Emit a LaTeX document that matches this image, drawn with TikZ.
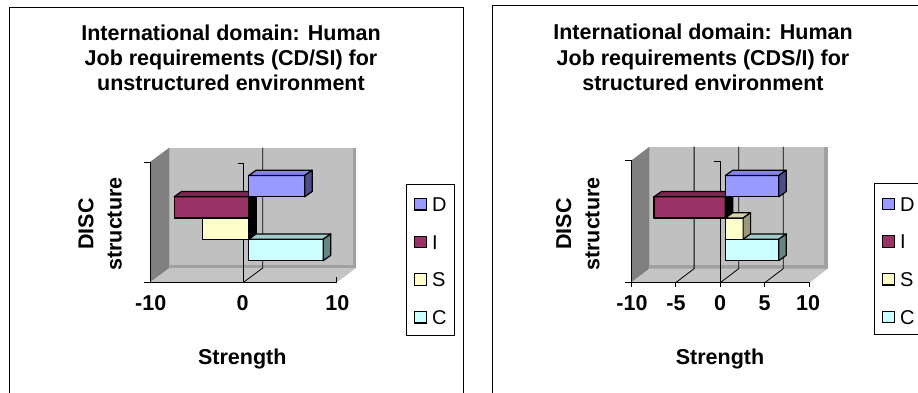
\documentclass[tikz,border=0pt]{standalone}
\usepackage{fontspec}
\setmainfont{Liberation Sans}
\begin{document}
\begin{tikzpicture}[x=1pt,y=-1pt,
  panel/.style={draw=black,line width=1pt},
  titletext/.style={font=\bfseries\fontsize{21.5}{25.7}\selectfont,anchor=base,inner sep=0pt},
  axistext/.style={font=\bfseries\fontsize{21.5}{25.7}\selectfont,anchor=base,inner sep=0pt},
  ylabel/.style={font=\bfseries\fontsize{21.5}{25.7}\selectfont,anchor=base,rotate=90,inner sep=0pt},
  legtext/.style={font=\fontsize{20}{24}\selectfont,anchor=base west,inner sep=0pt},
  legbox/.style={draw=black,line width=0.9pt,fill=white},
  legkey/.style={draw=black,line width=1.1pt,minimum size=11.5pt,inner sep=0pt},
  axisline/.style={draw=black,line width=0.9pt},
  gridline/.style={draw=black,line width=0.8pt},
  barline/.style={draw=black,line width=1.2pt,line join=round},
]
\definecolor{backwall}{HTML}{C0C0C0}
\definecolor{sidewall}{HTML}{808080}
\definecolor{floorcol}{HTML}{C4C4C4}
\definecolor{walledge}{HTML}{A0A0A0}
\definecolor{dfront}{HTML}{9999FF}
\definecolor{dtop}{HTML}{8585E6}
\definecolor{dside}{HTML}{4D4D8C}
\definecolor{ifront}{HTML}{993366}
\definecolor{itop}{HTML}{7A2952}
\definecolor{sfront}{HTML}{FFFFCC}
\definecolor{stop}{HTML}{D6D6A8}
\definecolor{sside}{HTML}{99997A}
\definecolor{cfront}{HTML}{CCFFFF}
\definecolor{ctop}{HTML}{A3CCCC}
\definecolor{cside}{HTML}{668585}

\useasboundingbox (0,0) rectangle (918,392);
\clip (0,0) rectangle (918,392);

% depth offset of the 3-D bars
\def\bdx{7.5}
\def\bdy{-5.3}
% #1 left x, #2 right x, #3 top y, #4 bottom y, #5 front, #6 top, #7 end face
\newcommand{\drawbar}[7]{%
  \filldraw[barline,fill=#5] (#1,#3) rectangle (#2,#4);
  \filldraw[barline,fill=#6] (#1,#3) -- (#1+\bdx,#3+\bdy) -- (#2+\bdx,#3+\bdy) -- (#2,#3) -- cycle;
  \filldraw[barline,fill=#7] (#2,#3) -- (#2+\bdx,#3+\bdy) -- (#2+\bdx,#4+\bdy) -- (#2,#4) -- cycle;
}

% ---------------- panels ----------------
\draw[panel] (9,7.3) rectangle (463,420);
\draw[panel] (492.7,5) rectangle (940,420);

% ================= left chart =================
\node[titletext] (lt1) at (231,40) {International domain: Human};
\node[titletext] (lt2) at (231,65.7) {Job requirements (CD/SI) for};
\node[titletext] (lt3) at (231,90.7) {unstructured environment};

% walls and floor
\fill[backwall] (169.5,147.5) rectangle (356,268);
\fill[walledge] (352.5,147.5) rectangle (356,268);
\fill[walledge] (169.5,264.5) rectangle (356,268);
\fill[sidewall] (150,162) -- (169.5,147.5) -- (169.5,268) -- (150,282.5) -- cycle;
\fill[floorcol] (150,282.5) -- (169.5,268) -- (356,268) -- (336.5,282.5) -- cycle;

% grid and axes
\draw[gridline] (262.75,147.5) -- (262.75,268) -- (243.25,282.5);
\draw[axisline] (144,162) -- (150,162) -- (150,282.5);
\draw[axisline] (144,282.5) -- (336.5,282.5) -- (336.5,277);
\draw[axisline] (237.5,163) -- (243.25,163) -- (243.25,282.5);

% bars: negative values first, then positive ones from bottom to top
\drawbar{202.1}{248.7}{218}{239.2}{sfront}{stop}{black}
\drawbar{174.1}{248.7}{196.8}{218}{ifront}{itop}{black}
\drawbar{248.7}{323.3}{239.2}{260.6}{cfront}{ctop}{cside}
\drawbar{248.7}{304.65}{175.5}{196.8}{dfront}{dtop}{dside}

% axis labels
\node[axistext] (lx1) at (150.7,310) {-10};
\node[axistext] (lx2) at (242.7,310) {0};
\node[axistext] (lx3) at (337.3,310) {10};
\node[axistext] (lxt) at (242.3,364) {Strength};
\node[ylabel] (ly1) at (93.3,224) {DISC};
\node[ylabel] (ly2) at (121.7,224) {structure};

% legend
\draw[legbox] (406.7,184) rectangle (454.3,335);
\node[legkey,fill=dfront] (lkd) at (420.5,204.2) {};
\node[legkey,fill=ifront] (lki) at (420.5,241.8) {};
\node[legkey,fill=sfront] (lks) at (420.5,279.5) {};
\node[legkey,fill=cfront] (lkc) at (420.5,317.2) {};
\node[legtext] (lld) at (432,211.3) {D};
\node[legtext] (lli) at (432,249) {I};
\node[legtext] (lls) at (432,286.6) {S};
\node[legtext] (llc) at (432,324.3) {C};

% ================= right chart =================
\node[titletext] (rt1) at (703,39) {International domain: Human};
\node[titletext] (rt2) at (703,65) {Job requirements (CDS/I) for};
\node[titletext] (rt3) at (703,90) {structured environment};

% walls and floor
\fill[backwall] (649.5,146.7) rectangle (827.8,268.7);
\fill[walledge] (824.3,146.7) rectangle (827.8,268.7);
\fill[walledge] (649.5,265.2) rectangle (827.8,268.7);
\fill[sidewall] (631,160.7) -- (649.5,146.7) -- (649.5,268.7) -- (631,282.7) -- cycle;
\fill[floorcol] (631,282.7) -- (649.5,268.7) -- (827.8,268.7) -- (809.3,282.7) -- cycle;

% grid and axes
\draw[gridline] (694.1,146.7) -- (694.1,268.7) -- (675.6,282.7);
\draw[gridline] (738.65,146.7) -- (738.65,268.7) -- (720.15,282.7);
\draw[gridline] (783.2,146.7) -- (783.2,268.7) -- (764.7,282.7);
\draw[axisline] (625,160.7) -- (631,160.7) -- (631,287);
\draw[axisline] (625,282.7) -- (809.3,282.7) -- (809.3,287);
\draw[axisline] (675.6,282.7) -- (675.6,287);
\draw[axisline] (764.7,282.7) -- (764.7,287);
\draw[axisline] (714,161) -- (720.15,161) -- (720.15,287);

% bars: negative values first, then positive ones from bottom to top
\drawbar{654.0}{725.3}{196.8}{218}{ifront}{itop}{black}
\drawbar{725.3}{778.8}{239.2}{260.6}{cfront}{ctop}{cside}
\drawbar{725.3}{743.1}{218}{239.2}{sfront}{stop}{sside}
\drawbar{725.3}{778.8}{175.5}{196.8}{dfront}{dtop}{dside}

% axis labels
\node[axistext] (rx1) at (632,310) {-10};
\node[axistext] (rx2) at (676,310) {-5};
\node[axistext] (rx3) at (720,310) {0};
\node[axistext] (rx4) at (764.7,310) {5};
\node[axistext] (rx5) at (808,310) {10};
\node[axistext] (rxt) at (720,364) {Strength};
\node[ylabel] (ry1) at (571,224) {DISC};
\node[ylabel] (ry2) at (599.4,224) {structure};

% legend
\draw[legbox] (874.3,183.3) rectangle (960,334.5);
\node[legkey,fill=dfront] (rkd) at (888.5,203.9) {};
\node[legkey,fill=ifront] (rki) at (888.5,241.5) {};
\node[legkey,fill=sfront] (rks) at (888.5,279.2) {};
\node[legkey,fill=cfront] (rkc) at (888.5,316.9) {};
\node[legtext] (rld) at (900,211) {D};
\node[legtext] (rli) at (900,248.7) {I};
\node[legtext] (rls) at (900,286.3) {S};
\node[legtext] (rlc) at (900,324) {C};
\end{tikzpicture}
\end{document}
